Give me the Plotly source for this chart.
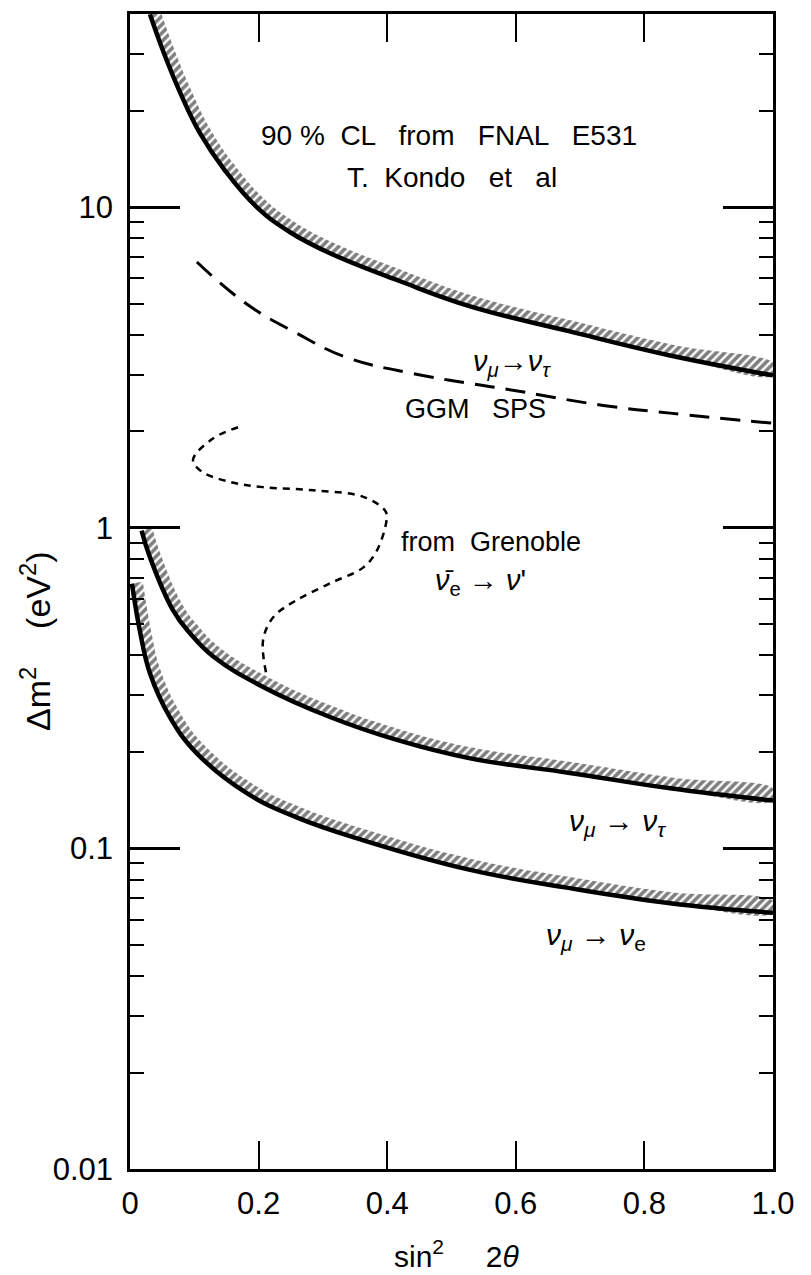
import numpy as np
import plotly.graph_objects as go

# ---------------- data ----------------
# FNAL E531 nu_mu -> nu_tau (upper hatched limit)
e531_tau_x = [0.031, 0.054, 0.078, 0.109, 0.148, 0.1975, 0.249, 0.311, 0.42, 0.529, 0.684, 0.840, 1.0]
e531_tau_y = [40.0, 29.8, 22.8, 17.0, 13.0, 10.0, 8.36, 7.19, 5.88, 4.91, 4.10, 3.45, 2.99]

# GGM SPS (dashed)
ggm_x = [0.104, 0.181, 0.259, 0.337, 0.44, 0.529, 0.58, 0.736, 0.84, 1.0]
ggm_y = [6.75, 5.0, 4.05, 3.40, 3.03, 2.82, 2.72, 2.41, 2.28, 2.12]

# Grenoble anti-nu_e -> nu' (dotted)
gren_x = [0.168, 0.129, 0.098, 0.111, 0.156, 0.207, 0.285, 0.363, 0.397, 0.399, 0.384, 0.363, 0.311, 0.259, 0.223, 0.207, 0.212]
gren_y = [2.06, 1.90, 1.63, 1.50, 1.39, 1.34, 1.31, 1.25, 1.13, 1.06, 0.85, 0.753, 0.671, 0.595, 0.527, 0.447, 0.35]

# lower nu_mu -> nu_tau (middle hatched limit)
mu_tau_x = [0.018, 0.031, 0.067, 0.093, 0.13, 0.207, 0.311, 0.415, 0.529, 0.684, 0.84, 1.0]
mu_tau_y = [0.98, 0.81, 0.553, 0.47, 0.396, 0.319, 0.257, 0.218, 0.191, 0.172, 0.154, 0.141]

# nu_mu -> nu_e (lower hatched limit)
mu_e_x = [0.003, 0.016, 0.031, 0.062, 0.104, 0.181, 0.259, 0.363, 0.529, 0.684, 0.84, 1.0]
mu_e_y = [0.67, 0.47, 0.352, 0.257, 0.198, 0.149, 0.125, 0.106, 0.0857, 0.0752, 0.0675, 0.063]

x_tickvals = [0, 0.2, 0.4, 0.6, 0.8, 1.0]
x_ticktext = ["0", "0.2", "0.4", "0.6", "0.8", "1.0"]
y_tickvals = [0.01, 0.1, 1, 10]
y_ticktext = ["0.01", "0.1", "1", "10"]
y_minor = [m * 10.0 ** e for e in (-2, -1, 0, 1) for m in range(2, 10)]

# ---------------- layout geometry ----------------
FIG_W, FIG_H = 811, 1275
ML, MR, MT, MB = 130, 38, 14, 106
PLOT_W = FIG_W - ML - MR
PLOT_H = FIG_H - MT - MB
Y_LOG_RANGE = [-2.0, 1.603]
DEC_PX = PLOT_H / (Y_LOG_RANGE[1] - Y_LOG_RANGE[0])
SMOOTH = 1.2


def hatch_band(xs, ys, d=11.0):
    X = np.asarray(xs, float) * PLOT_W
    Y = np.log10(np.asarray(ys, float)) * DEC_PX
    dX = np.gradient(X)
    dY = np.gradient(Y)
    L = np.hypot(dX, dY)
    nx, ny = -dY / L, dX / L
    xo = (X + d * nx) / PLOT_W
    yo = 10 ** ((Y + d * ny) / DEC_PX)
    return list(xs) + list(xo[::-1]), list(ys) + list(yo[::-1])


fig = go.Figure()

for xs, ys in [(e531_tau_x, e531_tau_y), (mu_tau_x, mu_tau_y), (mu_e_x, mu_e_y)]:
    px_, py_ = hatch_band(xs, ys)
    fig.add_trace(go.Scatter(
        x=px_, y=py_, mode="lines", fill="toself",
        line=dict(width=0, shape="spline", smoothing=SMOOTH),
        fillcolor="rgba(0,0,0,0)",
        fillpattern=dict(shape="/", size=6, solidity=0.6,
                         fgcolor="black", bgcolor="rgba(0,0,0,0)"),
        hoverinfo="skip", showlegend=False))
    fig.add_trace(go.Scatter(
        x=xs, y=ys, mode="lines",
        line=dict(color="black", width=4.5, shape="spline", smoothing=SMOOTH),
        showlegend=False))

fig.add_trace(go.Scatter(
    x=ggm_x, y=ggm_y, mode="lines",
    line=dict(color="black", width=3, dash="20px,11px", shape="spline", smoothing=SMOOTH),
    showlegend=False))

fig.add_trace(go.Scatter(
    x=gren_x, y=gren_y, mode="lines",
    line=dict(color="black", width=2.5, dash="7px,6px", shape="spline", smoothing=1.0),
    showlegend=False))

FONT = "Liberation Sans, Arial, sans-serif"


def ann(text, x, y, size=25, **kw):
    fig.add_annotation(text=text, x=x, y=y, xref="x", yref="y", showarrow=False,
                       font=dict(family=FONT, size=size, color="black"),
                       xanchor="center", yanchor="middle", **kw)


def px2data(px, py):
    x = (px - ML) / PLOT_W
    ly = Y_LOG_RANGE[1] - (py - MT) / DEC_PX
    return x, ly


ann("90 %  CL   from   FNAL   E531", *px2data(449, 135), size=28)
ann("T.  Kondo   et   al", *px2data(452, 177), size=28)
ann("<i>ν</i><sub><i>μ</i></sub>→<i>ν</i><sub><i>τ</i></sub>", *px2data(512, 363), size=29)
ann("GGM   SPS", *px2data(475, 409), size=27)
ann("from  Grenoble", *px2data(491, 542), size=27)
ann("<i>ν\u0304</i><sub>e</sub> → <i>ν</i>'", *px2data(480, 582), size=29)
ann("<i>ν</i><sub><i>μ</i></sub> → <i>ν</i><sub><i>τ</i></sub>", *px2data(617, 822), size=30)
ann("<i>ν</i><sub><i>μ</i></sub> → <i>ν</i><sub>e</sub>", *px2data(596, 936), size=30)

# axis titles
fig.add_annotation(text="Δm<sup>2</sup>    (eV<sup>2</sup>)", textangle=-90,
                   x=(35 - ML) / PLOT_W, y=(FIG_H - MB - 641) / PLOT_H,
                   xref="paper", yref="paper", showarrow=False,
                   font=dict(family=FONT, size=34, color="black"),
                   xanchor="center", yanchor="middle")
fig.add_annotation(text="sin<sup>2</sup>     2<i>θ</i>",
                   x=(456 - ML) / PLOT_W, y=(FIG_H - MB - 1254) / PLOT_H,
                   xref="paper", yref="paper", showarrow=False,
                   font=dict(family=FONT, size=30, color="black"),
                   xanchor="center", yanchor="middle")

fig.update_xaxes(range=[0, 1], tickvals=x_tickvals, ticktext=x_ticktext,
                 ticks="inside", ticklen=28, tickwidth=2, tickcolor="black",
                 showline=True, linewidth=2.5, linecolor="black", mirror="ticks",
                 showgrid=False, zeroline=False, ticklabelstandoff=5,
                 tickfont=dict(family=FONT, size=31, color="black"))
fig.update_yaxes(type="log", range=Y_LOG_RANGE, tickvals=y_tickvals, ticktext=y_ticktext,
                 ticks="inside", ticklen=50, tickwidth=2.5, tickcolor="black",
                 showline=True, linewidth=2.5, linecolor="black", mirror="ticks",
                 showgrid=False, zeroline=False, ticklabelstandoff=8,
                 minor=dict(tickvals=y_minor, ticks="inside", ticklen=14, tickwidth=2,
                            tickcolor="black", showgrid=False),
                 tickfont=dict(family=FONT, size=31, color="black"))

fig.update_layout(width=FIG_W, height=FIG_H,
                  margin=dict(l=ML, r=MR, t=MT, b=MB),
                  plot_bgcolor="white", paper_bgcolor="white",
                  showlegend=False)

fig.write_html("out.html")
